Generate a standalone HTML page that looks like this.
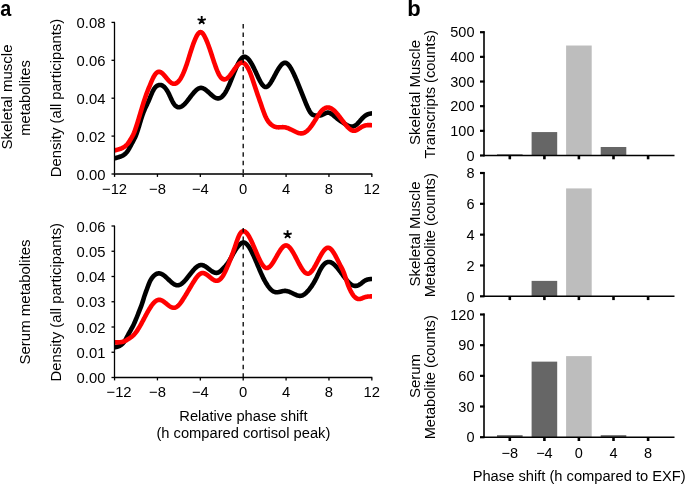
<!DOCTYPE html>
<html><head><meta charset="utf-8"><style>
html,body{margin:0;padding:0;background:#fff;overflow:hidden;}
svg{display:block;}
text{font-family:"Liberation Sans",sans-serif;fill:#000;}
svg{will-change:transform;}
</style></head><body>
<svg width="685" height="484" viewBox="0 0 685 484">
<defs><clipPath id="clipA"><rect x="114" y="0" width="258" height="484"/></clipPath></defs>
<text transform="translate(0.2,15.6) scale(0.9,1)" font-size="22" font-weight="bold">a</text>
<text x="407.2" y="15.6" text-anchor="start" font-size="22" font-weight="bold">b</text>
<g clip-path="url(#clipA)">
<path d="M114.50,158.40 L115.00,158.26 L115.50,158.11 L116.00,157.96 L116.50,157.81 L117.00,157.67 L117.50,157.51 L118.00,157.36 L118.50,157.20 L119.00,157.04 L119.50,156.87 L120.00,156.70 L120.50,156.53 L121.00,156.34 L121.50,156.14 L122.00,155.92 L122.50,155.68 L123.00,155.42 L123.50,155.12 L124.00,154.79 L124.50,154.41 L125.00,154.00 L125.50,153.54 L126.00,153.02 L126.50,152.46 L127.00,151.84 L127.50,151.16 L128.00,150.42 L128.50,149.63 L129.00,148.78 L129.50,147.88 L130.00,146.96 L130.50,146.04 L131.00,145.12 L131.50,144.19 L132.00,143.27 L132.50,142.34 L133.00,141.41 L133.50,140.46 L134.00,139.50 L134.50,138.53 L135.00,137.51 L135.50,136.42 L136.00,135.24 L136.50,133.93 L137.00,132.53 L137.50,131.04 L138.00,129.49 L138.50,127.88 L139.00,126.23 L139.50,124.57 L140.00,122.90 L140.50,121.24 L141.00,119.61 L141.50,118.02 L142.00,116.48 L142.50,115.01 L143.00,113.62 L143.50,112.30 L144.00,111.04 L144.50,109.84 L145.00,108.69 L145.50,107.58 L146.00,106.50 L146.50,105.44 L147.00,104.39 L147.50,103.34 L148.00,102.28 L148.50,101.20 L149.00,100.08 L149.50,98.91 L150.00,97.71 L150.50,96.48 L151.00,95.25 L151.50,94.05 L152.00,92.89 L152.50,91.80 L153.00,90.79 L153.50,89.87 L154.00,89.04 L154.50,88.30 L155.00,87.65 L155.50,87.08 L156.00,86.58 L156.50,86.17 L157.00,85.82 L157.50,85.53 L158.00,85.31 L158.50,85.14 L159.00,85.02 L159.50,84.95 L160.00,84.94 L160.50,84.98 L161.00,85.08 L161.50,85.22 L162.00,85.43 L162.50,85.68 L163.00,85.99 L163.50,86.36 L164.00,86.78 L164.50,87.26 L165.00,87.79 L165.50,88.38 L166.00,89.03 L166.50,89.73 L167.00,90.49 L167.50,91.31 L168.00,92.18 L168.50,93.12 L169.00,94.11 L169.50,95.16 L170.00,96.24 L170.50,97.34 L171.00,98.44 L171.50,99.53 L172.00,100.58 L172.50,101.57 L173.00,102.49 L173.50,103.32 L174.00,104.07 L174.50,104.73 L175.00,105.30 L175.50,105.80 L176.00,106.22 L176.50,106.56 L177.00,106.83 L177.50,107.03 L178.00,107.17 L178.50,107.24 L179.00,107.25 L179.50,107.20 L180.00,107.10 L180.50,106.94 L181.00,106.73 L181.50,106.47 L182.00,106.17 L182.50,105.83 L183.00,105.45 L183.50,105.03 L184.00,104.57 L184.50,104.09 L185.00,103.57 L185.50,103.03 L186.00,102.46 L186.50,101.88 L187.00,101.27 L187.50,100.66 L188.00,100.02 L188.50,99.38 L189.00,98.73 L189.50,98.08 L190.00,97.42 L190.50,96.76 L191.00,96.11 L191.50,95.46 L192.00,94.83 L192.50,94.20 L193.00,93.59 L193.50,92.99 L194.00,92.41 L194.50,91.86 L195.00,91.33 L195.50,90.83 L196.00,90.35 L196.50,89.91 L197.00,89.51 L197.50,89.14 L198.00,88.82 L198.50,88.54 L199.00,88.30 L199.50,88.12 L200.00,87.98 L200.50,87.90 L201.00,87.88 L201.50,87.91 L202.00,87.99 L202.50,88.12 L203.00,88.29 L203.50,88.50 L204.00,88.75 L204.50,89.04 L205.00,89.36 L205.50,89.71 L206.00,90.08 L206.50,90.47 L207.00,90.89 L207.50,91.31 L208.00,91.76 L208.50,92.21 L209.00,92.67 L209.50,93.13 L210.00,93.59 L210.50,94.05 L211.00,94.50 L211.50,94.94 L212.00,95.38 L212.50,95.79 L213.00,96.19 L213.50,96.56 L214.00,96.91 L214.50,97.23 L215.00,97.52 L215.50,97.77 L216.00,97.99 L216.50,98.17 L217.00,98.30 L217.50,98.38 L218.00,98.42 L218.50,98.40 L219.00,98.32 L219.50,98.19 L220.00,98.00 L220.50,97.76 L221.00,97.46 L221.50,97.10 L222.00,96.69 L222.50,96.22 L223.00,95.70 L223.50,95.12 L224.00,94.49 L224.50,93.80 L225.00,93.05 L225.50,92.26 L226.00,91.40 L226.50,90.50 L227.00,89.54 L227.50,88.53 L228.00,87.48 L228.50,86.38 L229.00,85.25 L229.50,84.09 L230.00,82.90 L230.50,81.69 L231.00,80.46 L231.50,79.21 L232.00,77.96 L232.50,76.71 L233.00,75.45 L233.50,74.20 L234.00,72.95 L234.50,71.72 L235.00,70.51 L235.50,69.32 L236.00,68.15 L236.50,67.02 L237.00,65.93 L237.50,64.87 L238.00,63.86 L238.50,62.90 L239.00,61.99 L239.50,61.14 L240.00,60.35 L240.50,59.63 L241.00,58.99 L241.50,58.41 L242.00,57.92 L242.50,57.52 L243.00,57.20 L243.50,56.98 L244.00,56.85 L244.50,56.80 L245.00,56.85 L245.50,56.97 L246.00,57.17 L246.50,57.44 L247.00,57.79 L247.50,58.20 L248.00,58.68 L248.50,59.23 L249.00,59.83 L249.50,60.48 L250.00,61.19 L250.50,61.95 L251.00,62.75 L251.50,63.60 L252.00,64.48 L252.50,65.40 L253.00,66.36 L253.50,67.34 L254.00,68.35 L254.50,69.38 L255.00,70.43 L255.50,71.50 L256.00,72.58 L256.50,73.67 L257.00,74.76 L257.50,75.84 L258.00,76.91 L258.50,77.96 L259.00,78.99 L259.50,79.98 L260.00,80.94 L260.50,81.85 L261.00,82.70 L261.50,83.50 L262.00,84.24 L262.50,84.90 L263.00,85.49 L263.50,85.99 L264.00,86.40 L264.50,86.71 L265.00,86.92 L265.50,87.02 L266.00,87.01 L266.50,86.89 L267.00,86.68 L267.50,86.37 L268.00,85.97 L268.50,85.50 L269.00,84.95 L269.50,84.34 L270.00,83.67 L270.50,82.94 L271.00,82.17 L271.50,81.35 L272.00,80.50 L272.50,79.62 L273.00,78.72 L273.50,77.81 L274.00,76.88 L274.50,75.94 L275.00,75.00 L275.50,74.07 L276.00,73.14 L276.50,72.22 L277.00,71.32 L277.50,70.45 L278.00,69.59 L278.50,68.77 L279.00,67.99 L279.50,67.24 L280.00,66.54 L280.50,65.88 L281.00,65.28 L281.50,64.73 L282.00,64.24 L282.50,63.81 L283.00,63.45 L283.50,63.17 L284.00,62.96 L284.50,62.83 L285.00,62.79 L285.50,62.83 L286.00,62.97 L286.50,63.19 L287.00,63.49 L287.50,63.88 L288.00,64.33 L288.50,64.86 L289.00,65.46 L289.50,66.12 L290.00,66.84 L290.50,67.62 L291.00,68.45 L291.50,69.33 L292.00,70.26 L292.50,71.22 L293.00,72.23 L293.50,73.27 L294.00,74.34 L294.50,75.43 L295.00,76.55 L295.50,77.69 L296.00,78.84 L296.50,80.02 L297.00,81.21 L297.50,82.41 L298.00,83.63 L298.50,84.86 L299.00,86.09 L299.50,87.34 L300.00,88.59 L300.50,89.85 L301.00,91.12 L301.50,92.38 L302.00,93.65 L302.50,94.91 L303.00,96.17 L303.50,97.43 L304.00,98.67 L304.50,99.91 L305.00,101.14 L305.50,102.35 L306.00,103.56 L306.50,104.74 L307.00,105.90 L307.50,107.03 L308.00,108.13 L308.50,109.17 L309.00,110.15 L309.50,111.07 L310.00,111.90 L310.50,112.65 L311.00,113.29 L311.50,113.83 L312.00,114.27 L312.50,114.63 L313.00,114.90 L313.50,115.11 L314.00,115.26 L314.50,115.36 L315.00,115.43 L315.50,115.47 L316.00,115.49 L316.50,115.51 L317.00,115.53 L317.50,115.54 L318.00,115.55 L318.50,115.55 L319.00,115.54 L319.50,115.51 L320.00,115.45 L320.50,115.38 L321.00,115.27 L321.50,115.13 L322.00,114.96 L322.50,114.74 L323.00,114.50 L323.50,114.24 L324.00,113.98 L324.50,113.71 L325.00,113.45 L325.50,113.20 L326.00,112.99 L326.50,112.81 L327.00,112.68 L327.50,112.61 L328.00,112.59 L328.50,112.64 L329.00,112.74 L329.50,112.90 L330.00,113.10 L330.50,113.35 L331.00,113.63 L331.50,113.95 L332.00,114.30 L332.50,114.67 L333.00,115.07 L333.50,115.48 L334.00,115.90 L334.50,116.33 L335.00,116.76 L335.50,117.19 L336.00,117.61 L336.50,118.03 L337.00,118.43 L337.50,118.83 L338.00,119.21 L338.50,119.59 L339.00,119.96 L339.50,120.32 L340.00,120.67 L340.50,121.02 L341.00,121.36 L341.50,121.70 L342.00,122.03 L342.50,122.36 L343.00,122.68 L343.50,123.01 L344.00,123.33 L344.50,123.65 L345.00,123.96 L345.50,124.27 L346.00,124.57 L346.50,124.85 L347.00,125.13 L347.50,125.38 L348.00,125.62 L348.50,125.83 L349.00,126.02 L349.50,126.19 L350.00,126.33 L350.50,126.43 L351.00,126.50 L351.50,126.54 L352.00,126.54 L352.50,126.50 L353.00,126.42 L353.50,126.29 L354.00,126.12 L354.50,125.90 L355.00,125.65 L355.50,125.34 L356.00,124.99 L356.50,124.60 L357.00,124.16 L357.50,123.68 L358.00,123.16 L358.50,122.62 L359.00,122.06 L359.50,121.49 L360.00,120.90 L360.50,120.32 L361.00,119.74 L361.50,119.18 L362.00,118.63 L362.50,118.10 L363.00,117.59 L363.50,117.11 L364.00,116.66 L364.50,116.24 L365.00,115.85 L365.50,115.50 L366.00,115.18 L366.50,114.90 L367.00,114.64 L367.50,114.42 L368.00,114.22 L368.50,114.04 L369.00,113.89 L369.50,113.76 L370.00,113.65 L370.50,113.56 L371.00,113.49 L371.50,113.43 L372.00,113.38 L372.50,113.35 L373.00,113.32 L373.50,113.31 L374.00,113.30 L374.50,113.29 L375.00,113.29 L375.50,113.29 L376.00,113.30" fill="none" stroke="#000" stroke-width="4.6" stroke-linejoin="round"/>
<path d="M114.50,150.40 L115.00,150.28 L115.50,150.17 L116.00,150.04 L116.50,149.92 L117.00,149.80 L117.50,149.66 L118.00,149.53 L118.50,149.38 L119.00,149.23 L119.50,149.07 L120.00,148.90 L120.50,148.72 L121.00,148.53 L121.50,148.32 L122.00,148.10 L122.50,147.85 L123.00,147.59 L123.50,147.31 L124.00,147.00 L124.50,146.66 L125.00,146.30 L125.50,145.91 L126.00,145.48 L126.50,145.01 L127.00,144.50 L127.50,143.94 L128.00,143.33 L128.50,142.65 L129.00,141.92 L129.50,141.14 L130.00,140.34 L130.50,139.51 L131.00,138.68 L131.50,137.84 L132.00,136.96 L132.50,136.02 L133.00,135.03 L133.50,133.95 L134.00,132.78 L134.50,131.53 L135.00,130.20 L135.50,128.80 L136.00,127.34 L136.50,125.83 L137.00,124.27 L137.50,122.67 L138.00,121.03 L138.50,119.38 L139.00,117.70 L139.50,116.01 L140.00,114.33 L140.50,112.64 L141.00,110.97 L141.50,109.30 L142.00,107.65 L142.50,106.02 L143.00,104.40 L143.50,102.81 L144.00,101.24 L144.50,99.70 L145.00,98.20 L145.50,96.72 L146.00,95.29 L146.50,93.89 L147.00,92.53 L147.50,91.22 L148.00,89.95 L148.50,88.71 L149.00,87.49 L149.50,86.28 L150.00,85.07 L150.50,83.87 L151.00,82.66 L151.50,81.46 L152.00,80.30 L152.50,79.17 L153.00,78.10 L153.50,77.11 L154.00,76.19 L154.50,75.36 L155.00,74.61 L155.50,73.95 L156.00,73.37 L156.50,72.88 L157.00,72.48 L157.50,72.17 L158.00,71.95 L158.50,71.82 L159.00,71.78 L159.50,71.82 L160.00,71.94 L160.50,72.14 L161.00,72.40 L161.50,72.73 L162.00,73.11 L162.50,73.54 L163.00,74.01 L163.50,74.53 L164.00,75.07 L164.50,75.64 L165.00,76.23 L165.50,76.83 L166.00,77.44 L166.50,78.05 L167.00,78.65 L167.50,79.24 L168.00,79.82 L168.50,80.38 L169.00,80.90 L169.50,81.39 L170.00,81.85 L170.50,82.26 L171.00,82.63 L171.50,82.96 L172.00,83.23 L172.50,83.46 L173.00,83.63 L173.50,83.74 L174.00,83.80 L174.50,83.79 L175.00,83.71 L175.50,83.58 L176.00,83.37 L176.50,83.11 L177.00,82.78 L177.50,82.38 L178.00,81.93 L178.50,81.41 L179.00,80.83 L179.50,80.18 L180.00,79.48 L180.50,78.71 L181.00,77.88 L181.50,76.99 L182.00,76.04 L182.50,75.02 L183.00,73.95 L183.50,72.81 L184.00,71.62 L184.50,70.38 L185.00,69.08 L185.50,67.73 L186.00,66.34 L186.50,64.90 L187.00,63.41 L187.50,61.89 L188.00,60.33 L188.50,58.74 L189.00,57.14 L189.50,55.52 L190.00,53.91 L190.50,52.31 L191.00,50.74 L191.50,49.19 L192.00,47.68 L192.50,46.21 L193.00,44.78 L193.50,43.41 L194.00,42.09 L194.50,40.82 L195.00,39.62 L195.50,38.47 L196.00,37.40 L196.50,36.39 L197.00,35.47 L197.50,34.64 L198.00,33.91 L198.50,33.29 L199.00,32.78 L199.50,32.41 L200.00,32.18 L200.50,32.10 L201.00,32.18 L201.50,32.40 L202.00,32.76 L202.50,33.24 L203.00,33.84 L203.50,34.55 L204.00,35.35 L204.50,36.23 L205.00,37.20 L205.50,38.23 L206.00,39.32 L206.50,40.46 L207.00,41.66 L207.50,42.92 L208.00,44.21 L208.50,45.56 L209.00,46.94 L209.50,48.35 L210.00,49.80 L210.50,51.28 L211.00,52.78 L211.50,54.29 L212.00,55.82 L212.50,57.35 L213.00,58.88 L213.50,60.40 L214.00,61.90 L214.50,63.38 L215.00,64.84 L215.50,66.26 L216.00,67.64 L216.50,68.96 L217.00,70.23 L217.50,71.44 L218.00,72.57 L218.50,73.63 L219.00,74.60 L219.50,75.47 L220.00,76.26 L220.50,76.95 L221.00,77.56 L221.50,78.08 L222.00,78.51 L222.50,78.85 L223.00,79.11 L223.50,79.29 L224.00,79.38 L224.50,79.40 L225.00,79.34 L225.50,79.20 L226.00,78.99 L226.50,78.72 L227.00,78.38 L227.50,77.99 L228.00,77.55 L228.50,77.06 L229.00,76.53 L229.50,75.96 L230.00,75.36 L230.50,74.72 L231.00,74.07 L231.50,73.39 L232.00,72.70 L232.50,71.99 L233.00,71.28 L233.50,70.57 L234.00,69.86 L234.50,69.16 L235.00,68.47 L235.50,67.80 L236.00,67.15 L236.50,66.52 L237.00,65.92 L237.50,65.36 L238.00,64.84 L238.50,64.36 L239.00,63.93 L239.50,63.55 L240.00,63.22 L240.50,62.97 L241.00,62.77 L241.50,62.65 L242.00,62.60 L242.50,62.63 L243.00,62.75 L243.50,62.94 L244.00,63.21 L244.50,63.55 L245.00,63.98 L245.50,64.48 L246.00,65.07 L246.50,65.72 L247.00,66.46 L247.50,67.27 L248.00,68.16 L248.50,69.12 L249.00,70.16 L249.50,71.27 L250.00,72.46 L250.50,73.71 L251.00,75.03 L251.50,76.39 L252.00,77.81 L252.50,79.26 L253.00,80.74 L253.50,82.24 L254.00,83.75 L254.50,85.27 L255.00,86.79 L255.50,88.30 L256.00,89.79 L256.50,91.27 L257.00,92.74 L257.50,94.20 L258.00,95.65 L258.50,97.10 L259.00,98.54 L259.50,99.98 L260.00,101.43 L260.50,102.87 L261.00,104.31 L261.50,105.77 L262.00,107.22 L262.50,108.65 L263.00,110.07 L263.50,111.46 L264.00,112.80 L264.50,114.10 L265.00,115.33 L265.50,116.50 L266.00,117.59 L266.50,118.59 L267.00,119.50 L267.50,120.33 L268.00,121.09 L268.50,121.78 L269.00,122.41 L269.50,122.98 L270.00,123.49 L270.50,123.97 L271.00,124.40 L271.50,124.80 L272.00,125.17 L272.50,125.51 L273.00,125.81 L273.50,126.08 L274.00,126.33 L274.50,126.54 L275.00,126.73 L275.50,126.89 L276.00,127.03 L276.50,127.14 L277.00,127.22 L277.50,127.28 L278.00,127.32 L278.50,127.33 L279.00,127.33 L279.50,127.32 L280.00,127.30 L280.50,127.27 L281.00,127.23 L281.50,127.20 L282.00,127.18 L282.50,127.16 L283.00,127.16 L283.50,127.18 L284.00,127.21 L284.50,127.27 L285.00,127.35 L285.50,127.45 L286.00,127.56 L286.50,127.70 L287.00,127.85 L287.50,128.02 L288.00,128.21 L288.50,128.40 L289.00,128.61 L289.50,128.83 L290.00,129.06 L290.50,129.29 L291.00,129.53 L291.50,129.78 L292.00,130.03 L292.50,130.28 L293.00,130.54 L293.50,130.79 L294.00,131.05 L294.50,131.30 L295.00,131.55 L295.50,131.79 L296.00,132.02 L296.50,132.25 L297.00,132.46 L297.50,132.65 L298.00,132.83 L298.50,132.99 L299.00,133.13 L299.50,133.24 L300.00,133.33 L300.50,133.39 L301.00,133.42 L301.50,133.41 L302.00,133.37 L302.50,133.30 L303.00,133.18 L303.50,133.03 L304.00,132.84 L304.50,132.61 L305.00,132.35 L305.50,132.05 L306.00,131.71 L306.50,131.34 L307.00,130.93 L307.50,130.48 L308.00,130.01 L308.50,129.50 L309.00,128.96 L309.50,128.38 L310.00,127.78 L310.50,127.15 L311.00,126.50 L311.50,125.82 L312.00,125.12 L312.50,124.40 L313.00,123.65 L313.50,122.90 L314.00,122.12 L314.50,121.34 L315.00,120.54 L315.50,119.73 L316.00,118.92 L316.50,118.10 L317.00,117.29 L317.50,116.49 L318.00,115.71 L318.50,114.93 L319.00,114.19 L319.50,113.46 L320.00,112.77 L320.50,112.12 L321.00,111.50 L321.50,110.93 L322.00,110.40 L322.50,109.92 L323.00,109.48 L323.50,109.09 L324.00,108.73 L324.50,108.43 L325.00,108.16 L325.50,107.94 L326.00,107.77 L326.50,107.63 L327.00,107.54 L327.50,107.49 L328.00,107.49 L328.50,107.53 L329.00,107.61 L329.50,107.73 L330.00,107.89 L330.50,108.10 L331.00,108.34 L331.50,108.62 L332.00,108.93 L332.50,109.28 L333.00,109.66 L333.50,110.07 L334.00,110.51 L334.50,110.98 L335.00,111.47 L335.50,111.98 L336.00,112.52 L336.50,113.07 L337.00,113.65 L337.50,114.24 L338.00,114.84 L338.50,115.46 L339.00,116.09 L339.50,116.73 L340.00,117.38 L340.50,118.04 L341.00,118.70 L341.50,119.36 L342.00,120.02 L342.50,120.69 L343.00,121.35 L343.50,122.01 L344.00,122.66 L344.50,123.31 L345.00,123.94 L345.50,124.57 L346.00,125.17 L346.50,125.77 L347.00,126.34 L347.50,126.88 L348.00,127.41 L348.50,127.90 L349.00,128.37 L349.50,128.80 L350.00,129.20 L350.50,129.56 L351.00,129.88 L351.50,130.15 L352.00,130.38 L352.50,130.56 L353.00,130.70 L353.50,130.77 L354.00,130.80 L354.50,130.76 L355.00,130.68 L355.50,130.54 L356.00,130.36 L356.50,130.15 L357.00,129.90 L357.50,129.63 L358.00,129.33 L358.50,129.02 L359.00,128.69 L359.50,128.36 L360.00,128.03 L360.50,127.70 L361.00,127.39 L361.50,127.08 L362.00,126.80 L362.50,126.53 L363.00,126.29 L363.50,126.07 L364.00,125.87 L364.50,125.69 L365.00,125.55 L365.50,125.42 L366.00,125.33 L366.50,125.25 L367.00,125.20 L367.50,125.16 L368.00,125.13 L368.50,125.12 L369.00,125.12 L369.50,125.13 L370.00,125.14 L370.50,125.16 L371.00,125.17 L371.50,125.19 L372.00,125.20 L372.50,125.21 L373.00,125.22 L373.50,125.22 L374.00,125.22 L374.50,125.22 L375.00,125.21 L375.50,125.21 L376.00,125.20" fill="none" stroke="#f00" stroke-width="4.6" stroke-linejoin="round"/>
</g>
<line x1="243.2" y1="24" x2="243.2" y2="174.0" stroke="#000" stroke-width="1.3" stroke-dasharray="4.5 4.05"/>
<line x1="114.5" y1="22.4" x2="114.5" y2="174.6" stroke="#000" stroke-width="1.3" />
<line x1="113.9" y1="174.0" x2="372.3" y2="174.0" stroke="#3a3a3a" stroke-width="1.8" />
<line x1="111.5" y1="22.4" x2="115" y2="22.4" stroke="#000" stroke-width="1.3" />
<text x="105.4" y="27.9" text-anchor="end" font-size="14.8" >0.08</text>
<line x1="111.5" y1="60.3" x2="115" y2="60.3" stroke="#000" stroke-width="1.3" />
<text x="105.4" y="65.8" text-anchor="end" font-size="14.8" >0.06</text>
<line x1="111.5" y1="98.19999999999999" x2="115" y2="98.19999999999999" stroke="#000" stroke-width="1.3" />
<text x="105.4" y="103.69999999999999" text-anchor="end" font-size="14.8" >0.04</text>
<line x1="111.5" y1="136.1" x2="115" y2="136.1" stroke="#000" stroke-width="1.3" />
<text x="105.4" y="141.6" text-anchor="end" font-size="14.8" >0.02</text>
<line x1="111.5" y1="174.0" x2="115" y2="174.0" stroke="#000" stroke-width="1.3" />
<text x="105.4" y="179.5" text-anchor="end" font-size="14.8" >0.00</text>
<line x1="114.55999999999997" y1="174.0" x2="114.55999999999997" y2="176.9" stroke="#000" stroke-width="1.3" />
<text x="114.55999999999997" y="193.5" text-anchor="middle" font-size="14.8" >−12</text>
<line x1="157.44" y1="174.0" x2="157.44" y2="176.9" stroke="#000" stroke-width="1.3" />
<text x="157.44" y="193.5" text-anchor="middle" font-size="14.8" >−8</text>
<line x1="200.32" y1="174.0" x2="200.32" y2="176.9" stroke="#000" stroke-width="1.3" />
<text x="200.32" y="193.5" text-anchor="middle" font-size="14.8" >−4</text>
<line x1="243.2" y1="174.0" x2="243.2" y2="176.9" stroke="#000" stroke-width="1.3" />
<text x="243.2" y="193.5" text-anchor="middle" font-size="14.8" >0</text>
<line x1="286.08" y1="174.0" x2="286.08" y2="176.9" stroke="#000" stroke-width="1.3" />
<text x="286.08" y="193.5" text-anchor="middle" font-size="14.8" >4</text>
<line x1="328.96" y1="174.0" x2="328.96" y2="176.9" stroke="#000" stroke-width="1.3" />
<text x="328.96" y="193.5" text-anchor="middle" font-size="14.8" >8</text>
<line x1="371.84000000000003" y1="174.0" x2="371.84000000000003" y2="176.9" stroke="#000" stroke-width="1.3" />
<text x="371.84000000000003" y="193.5" text-anchor="middle" font-size="14.8" >12</text>
<path d="M201.70,20.40 L201.70,16.10 M201.70,20.40 L205.79,19.07 M201.70,20.40 L204.23,23.88 M201.70,20.40 L199.17,23.88 M201.70,20.40 L197.61,19.07 " stroke="#000" stroke-width="1.85" stroke-linecap="butt" fill="none"/>
<g clip-path="url(#clipA)">
<path d="M114.50,347.30 L115.00,347.22 L115.50,347.13 L116.00,347.03 L116.50,346.93 L117.00,346.81 L117.50,346.68 L118.00,346.52 L118.50,346.35 L119.00,346.15 L119.50,345.91 L120.00,345.65 L120.50,345.35 L121.00,345.01 L121.50,344.62 L122.00,344.19 L122.50,343.72 L123.00,343.19 L123.50,342.60 L124.00,341.96 L124.50,341.25 L125.00,340.48 L125.50,339.66 L126.00,338.79 L126.50,337.89 L127.00,336.96 L127.50,336.02 L128.00,335.08 L128.50,334.14 L129.00,333.21 L129.50,332.30 L130.00,331.41 L130.50,330.52 L131.00,329.63 L131.50,328.74 L132.00,327.83 L132.50,326.90 L133.00,325.93 L133.50,324.93 L134.00,323.88 L134.50,322.78 L135.00,321.63 L135.50,320.45 L136.00,319.24 L136.50,318.00 L137.00,316.75 L137.50,315.49 L138.00,314.22 L138.50,312.96 L139.00,311.71 L139.50,310.46 L140.00,309.20 L140.50,307.92 L141.00,306.60 L141.50,305.23 L142.00,303.81 L142.50,302.30 L143.00,300.72 L143.50,299.07 L144.00,297.44 L144.50,295.90 L145.00,294.44 L145.50,293.03 L146.00,291.66 L146.50,290.30 L147.00,288.93 L147.50,287.55 L148.00,286.19 L148.50,284.85 L149.00,283.58 L149.50,282.38 L150.00,281.29 L150.50,280.31 L151.00,279.44 L151.50,278.65 L152.00,277.93 L152.50,277.28 L153.00,276.68 L153.50,276.13 L154.00,275.64 L154.50,275.20 L155.00,274.81 L155.50,274.47 L156.00,274.17 L156.50,273.92 L157.00,273.72 L157.50,273.56 L158.00,273.45 L158.50,273.39 L159.00,273.38 L159.50,273.41 L160.00,273.49 L160.50,273.62 L161.00,273.78 L161.50,273.99 L162.00,274.23 L162.50,274.51 L163.00,274.82 L163.50,275.15 L164.00,275.52 L164.50,275.90 L165.00,276.31 L165.50,276.73 L166.00,277.17 L166.50,277.63 L167.00,278.09 L167.50,278.56 L168.00,279.04 L168.50,279.52 L169.00,280.00 L169.50,280.47 L170.00,280.94 L170.50,281.40 L171.00,281.85 L171.50,282.29 L172.00,282.70 L172.50,283.10 L173.00,283.47 L173.50,283.82 L174.00,284.14 L174.50,284.42 L175.00,284.67 L175.50,284.89 L176.00,285.06 L176.50,285.19 L177.00,285.27 L177.50,285.30 L178.00,285.28 L178.50,285.21 L179.00,285.08 L179.50,284.91 L180.00,284.70 L180.50,284.44 L181.00,284.14 L181.50,283.80 L182.00,283.42 L182.50,283.01 L183.00,282.57 L183.50,282.10 L184.00,281.60 L184.50,281.08 L185.00,280.54 L185.50,279.97 L186.00,279.39 L186.50,278.79 L187.00,278.18 L187.50,277.56 L188.00,276.93 L188.50,276.29 L189.00,275.65 L189.50,275.00 L190.00,274.36 L190.50,273.72 L191.00,273.09 L191.50,272.46 L192.00,271.84 L192.50,271.23 L193.00,270.64 L193.50,270.07 L194.00,269.51 L194.50,268.98 L195.00,268.47 L195.50,267.98 L196.00,267.52 L196.50,267.10 L197.00,266.70 L197.50,266.34 L198.00,266.02 L198.50,265.74 L199.00,265.50 L199.50,265.30 L200.00,265.15 L200.50,265.05 L201.00,265.00 L201.50,265.00 L202.00,265.06 L202.50,265.16 L203.00,265.30 L203.50,265.48 L204.00,265.70 L204.50,265.95 L205.00,266.23 L205.50,266.54 L206.00,266.87 L206.50,267.21 L207.00,267.58 L207.50,267.95 L208.00,268.34 L208.50,268.73 L209.00,269.12 L209.50,269.51 L210.00,269.90 L210.50,270.27 L211.00,270.64 L211.50,270.99 L212.00,271.32 L212.50,271.63 L213.00,271.91 L213.50,272.17 L214.00,272.39 L214.50,272.58 L215.00,272.72 L215.50,272.83 L216.00,272.89 L216.50,272.90 L217.00,272.85 L217.50,272.75 L218.00,272.59 L218.50,272.38 L219.00,272.10 L219.50,271.79 L220.00,271.42 L220.50,271.02 L221.00,270.59 L221.50,270.13 L222.00,269.64 L222.50,269.14 L223.00,268.62 L223.50,268.10 L224.00,267.57 L224.50,267.03 L225.00,266.48 L225.50,265.92 L226.00,265.33 L226.50,264.73 L227.00,264.10 L227.50,263.44 L228.00,262.76 L228.50,262.03 L229.00,261.27 L229.50,260.47 L230.00,259.63 L230.50,258.75 L231.00,257.85 L231.50,256.94 L232.00,256.01 L232.50,255.08 L233.00,254.16 L233.50,253.25 L234.00,252.36 L234.50,251.50 L235.00,250.68 L235.50,249.89 L236.00,249.13 L236.50,248.41 L237.00,247.73 L237.50,247.07 L238.00,246.45 L238.50,245.86 L239.00,245.30 L239.50,244.77 L240.00,244.28 L240.50,243.83 L241.00,243.43 L241.50,243.09 L242.00,242.82 L242.50,242.62 L243.00,242.50 L243.50,242.47 L244.00,242.52 L244.50,242.65 L245.00,242.86 L245.50,243.15 L246.00,243.51 L246.50,243.94 L247.00,244.43 L247.50,244.99 L248.00,245.61 L248.50,246.28 L249.00,247.01 L249.50,247.79 L250.00,248.62 L250.50,249.49 L251.00,250.41 L251.50,251.37 L252.00,252.36 L252.50,253.39 L253.00,254.44 L253.50,255.53 L254.00,256.64 L254.50,257.77 L255.00,258.92 L255.50,260.08 L256.00,261.26 L256.50,262.44 L257.00,263.64 L257.50,264.83 L258.00,266.03 L258.50,267.23 L259.00,268.41 L259.50,269.60 L260.00,270.76 L260.50,271.92 L261.00,273.06 L261.50,274.17 L262.00,275.27 L262.50,276.34 L263.00,277.38 L263.50,278.39 L264.00,279.37 L264.50,280.32 L265.00,281.24 L265.50,282.13 L266.00,282.99 L266.50,283.81 L267.00,284.60 L267.50,285.36 L268.00,286.08 L268.50,286.76 L269.00,287.41 L269.50,288.02 L270.00,288.59 L270.50,289.12 L271.00,289.62 L271.50,290.07 L272.00,290.48 L272.50,290.85 L273.00,291.18 L273.50,291.46 L274.00,291.71 L274.50,291.90 L275.00,292.05 L275.50,292.16 L276.00,292.23 L276.50,292.26 L277.00,292.25 L277.50,292.22 L278.00,292.16 L278.50,292.09 L279.00,291.99 L279.50,291.88 L280.00,291.76 L280.50,291.64 L281.00,291.51 L281.50,291.39 L282.00,291.27 L282.50,291.16 L283.00,291.07 L283.50,290.99 L284.00,290.93 L284.50,290.90 L285.00,290.89 L285.50,290.91 L286.00,290.96 L286.50,291.03 L287.00,291.12 L287.50,291.24 L288.00,291.37 L288.50,291.52 L289.00,291.68 L289.50,291.87 L290.00,292.06 L290.50,292.27 L291.00,292.49 L291.50,292.72 L292.00,292.96 L292.50,293.20 L293.00,293.45 L293.50,293.70 L294.00,293.95 L294.50,294.20 L295.00,294.44 L295.50,294.67 L296.00,294.89 L296.50,295.10 L297.00,295.29 L297.50,295.45 L298.00,295.59 L298.50,295.71 L299.00,295.79 L299.50,295.84 L300.00,295.86 L300.50,295.83 L301.00,295.77 L301.50,295.66 L302.00,295.51 L302.50,295.32 L303.00,295.09 L303.50,294.82 L304.00,294.51 L304.50,294.17 L305.00,293.79 L305.50,293.38 L306.00,292.94 L306.50,292.47 L307.00,291.97 L307.50,291.44 L308.00,290.88 L308.50,290.30 L309.00,289.69 L309.50,289.06 L310.00,288.41 L310.50,287.74 L311.00,287.05 L311.50,286.33 L312.00,285.59 L312.50,284.83 L313.00,284.05 L313.50,283.23 L314.00,282.39 L314.50,281.52 L315.00,280.61 L315.50,279.67 L316.00,278.70 L316.50,277.68 L317.00,276.64 L317.50,275.57 L318.00,274.50 L318.50,273.42 L319.00,272.36 L319.50,271.33 L320.00,270.33 L320.50,269.37 L321.00,268.47 L321.50,267.64 L322.00,266.86 L322.50,266.14 L323.00,265.49 L323.50,264.89 L324.00,264.35 L324.50,263.86 L325.00,263.44 L325.50,263.06 L326.00,262.75 L326.50,262.48 L327.00,262.27 L327.50,262.12 L328.00,262.01 L328.50,261.96 L329.00,261.95 L329.50,262.00 L330.00,262.10 L330.50,262.24 L331.00,262.43 L331.50,262.66 L332.00,262.93 L332.50,263.24 L333.00,263.59 L333.50,263.97 L334.00,264.39 L334.50,264.84 L335.00,265.32 L335.50,265.82 L336.00,266.35 L336.50,266.91 L337.00,267.48 L337.50,268.08 L338.00,268.69 L338.50,269.32 L339.00,269.96 L339.50,270.61 L340.00,271.28 L340.50,271.95 L341.00,272.62 L341.50,273.30 L342.00,273.99 L342.50,274.67 L343.00,275.35 L343.50,276.02 L344.00,276.69 L344.50,277.36 L345.00,278.01 L345.50,278.65 L346.00,279.27 L346.50,279.88 L347.00,280.47 L347.50,281.05 L348.00,281.60 L348.50,282.12 L349.00,282.62 L349.50,283.09 L350.00,283.54 L350.50,283.95 L351.00,284.33 L351.50,284.67 L352.00,284.97 L352.50,285.24 L353.00,285.46 L353.50,285.64 L354.00,285.77 L354.50,285.86 L355.00,285.91 L355.50,285.91 L356.00,285.87 L356.50,285.79 L357.00,285.68 L357.50,285.53 L358.00,285.34 L358.50,285.12 L359.00,284.87 L359.50,284.59 L360.00,284.28 L360.50,283.94 L361.00,283.58 L361.50,283.19 L362.00,282.80 L362.50,282.40 L363.00,282.00 L363.50,281.61 L364.00,281.24 L364.50,280.89 L365.00,280.58 L365.50,280.31 L366.00,280.07 L366.50,279.86 L367.00,279.69 L367.50,279.54 L368.00,279.41 L368.50,279.31 L369.00,279.22 L369.50,279.16 L370.00,279.10 L370.50,279.06 L371.00,279.03 L371.50,279.00 L372.00,278.98 L372.50,278.96 L373.00,278.95 L373.50,278.94 L374.00,278.93 L374.50,278.92 L375.00,278.91 L375.50,278.91 L376.00,278.90" fill="none" stroke="#000" stroke-width="4.6" stroke-linejoin="round"/>
<path d="M114.50,342.30 L115.00,342.32 L115.50,342.34 L116.00,342.36 L116.50,342.37 L117.00,342.38 L117.50,342.38 L118.00,342.37 L118.50,342.36 L119.00,342.34 L119.50,342.31 L120.00,342.26 L120.50,342.21 L121.00,342.14 L121.50,342.05 L122.00,341.95 L122.50,341.83 L123.00,341.69 L123.50,341.53 L124.00,341.36 L124.50,341.16 L125.00,340.93 L125.50,340.69 L126.00,340.43 L126.50,340.15 L127.00,339.86 L127.50,339.56 L128.00,339.25 L128.50,338.93 L129.00,338.60 L129.50,338.27 L130.00,337.94 L130.50,337.59 L131.00,337.23 L131.50,336.85 L132.00,336.46 L132.50,336.04 L133.00,335.59 L133.50,335.11 L134.00,334.60 L134.50,334.06 L135.00,333.48 L135.50,332.86 L136.00,332.22 L136.50,331.54 L137.00,330.83 L137.50,330.09 L138.00,329.33 L138.50,328.54 L139.00,327.73 L139.50,326.90 L140.00,326.04 L140.50,325.17 L141.00,324.28 L141.50,323.37 L142.00,322.45 L142.50,321.52 L143.00,320.59 L143.50,319.64 L144.00,318.69 L144.50,317.74 L145.00,316.79 L145.50,315.85 L146.00,314.91 L146.50,313.98 L147.00,313.06 L147.50,312.16 L148.00,311.27 L148.50,310.40 L149.00,309.55 L149.50,308.72 L150.00,307.92 L150.50,307.14 L151.00,306.39 L151.50,305.67 L152.00,304.99 L152.50,304.33 L153.00,303.72 L153.50,303.14 L154.00,302.61 L154.50,302.11 L155.00,301.66 L155.50,301.26 L156.00,300.90 L156.50,300.58 L157.00,300.32 L157.50,300.11 L158.00,299.95 L158.50,299.85 L159.00,299.80 L159.50,299.81 L160.00,299.87 L160.50,299.98 L161.00,300.14 L161.50,300.34 L162.00,300.58 L162.50,300.85 L163.00,301.15 L163.50,301.48 L164.00,301.83 L164.50,302.20 L165.00,302.59 L165.50,302.98 L166.00,303.39 L166.50,303.80 L167.00,304.21 L167.50,304.61 L168.00,305.01 L168.50,305.40 L169.00,305.77 L169.50,306.12 L170.00,306.45 L170.50,306.75 L171.00,307.02 L171.50,307.26 L172.00,307.46 L172.50,307.62 L173.00,307.73 L173.50,307.79 L174.00,307.80 L174.50,307.76 L175.00,307.65 L175.50,307.48 L176.00,307.25 L176.50,306.96 L177.00,306.62 L177.50,306.23 L178.00,305.79 L178.50,305.30 L179.00,304.78 L179.50,304.21 L180.00,303.61 L180.50,302.97 L181.00,302.30 L181.50,301.60 L182.00,300.88 L182.50,300.14 L183.00,299.37 L183.50,298.59 L184.00,297.80 L184.50,296.99 L185.00,296.17 L185.50,295.35 L186.00,294.52 L186.50,293.69 L187.00,292.85 L187.50,292.01 L188.00,291.17 L188.50,290.33 L189.00,289.48 L189.50,288.63 L190.00,287.79 L190.50,286.95 L191.00,286.10 L191.50,285.27 L192.00,284.43 L192.50,283.60 L193.00,282.78 L193.50,281.97 L194.00,281.17 L194.50,280.39 L195.00,279.63 L195.50,278.89 L196.00,278.19 L196.50,277.51 L197.00,276.87 L197.50,276.26 L198.00,275.70 L198.50,275.18 L199.00,274.71 L199.50,274.29 L200.00,273.93 L200.50,273.62 L201.00,273.38 L201.50,273.20 L202.00,273.09 L202.50,273.05 L203.00,273.06 L203.50,273.13 L204.00,273.25 L204.50,273.42 L205.00,273.64 L205.50,273.89 L206.00,274.18 L206.50,274.50 L207.00,274.84 L207.50,275.21 L208.00,275.59 L208.50,275.99 L209.00,276.40 L209.50,276.81 L210.00,277.23 L210.50,277.64 L211.00,278.05 L211.50,278.44 L212.00,278.81 L212.50,279.17 L213.00,279.50 L213.50,279.81 L214.00,280.08 L214.50,280.31 L215.00,280.51 L215.50,280.66 L216.00,280.75 L216.50,280.80 L217.00,280.79 L217.50,280.71 L218.00,280.58 L218.50,280.38 L219.00,280.12 L219.50,279.80 L220.00,279.41 L220.50,278.96 L221.00,278.44 L221.50,277.86 L222.00,277.21 L222.50,276.50 L223.00,275.72 L223.50,274.87 L224.00,273.97 L224.50,273.02 L225.00,272.02 L225.50,270.98 L226.00,269.90 L226.50,268.78 L227.00,267.64 L227.50,266.47 L228.00,265.29 L228.50,264.09 L229.00,262.87 L229.50,261.63 L230.00,260.37 L230.50,259.10 L231.00,257.81 L231.50,256.50 L232.00,255.16 L232.50,253.81 L233.00,252.44 L233.50,251.05 L234.00,249.64 L234.50,248.21 L235.00,246.76 L235.50,245.29 L236.00,243.81 L236.50,242.32 L237.00,240.87 L237.50,239.46 L238.00,238.11 L238.50,236.86 L239.00,235.72 L239.50,234.72 L240.00,233.84 L240.50,233.10 L241.00,232.49 L241.50,232.00 L242.00,231.62 L242.50,231.37 L243.00,231.22 L243.50,231.17 L244.00,231.23 L244.50,231.39 L245.00,231.63 L245.50,231.97 L246.00,232.39 L246.50,232.89 L247.00,233.46 L247.50,234.11 L248.00,234.82 L248.50,235.59 L249.00,236.42 L249.50,237.31 L250.00,238.24 L250.50,239.22 L251.00,240.24 L251.50,241.29 L252.00,242.38 L252.50,243.49 L253.00,244.63 L253.50,245.79 L254.00,246.95 L254.50,248.13 L255.00,249.32 L255.50,250.50 L256.00,251.68 L256.50,252.86 L257.00,254.02 L257.50,255.17 L258.00,256.29 L258.50,257.39 L259.00,258.46 L259.50,259.50 L260.00,260.50 L260.50,261.45 L261.00,262.36 L261.50,263.22 L262.00,264.02 L262.50,264.77 L263.00,265.45 L263.50,266.05 L264.00,266.59 L264.50,267.05 L265.00,267.43 L265.50,267.72 L266.00,267.92 L266.50,268.03 L267.00,268.04 L267.50,267.96 L268.00,267.79 L268.50,267.55 L269.00,267.23 L269.50,266.83 L270.00,266.37 L270.50,265.85 L271.00,265.27 L271.50,264.64 L272.00,263.96 L272.50,263.24 L273.00,262.48 L273.50,261.69 L274.00,260.87 L274.50,260.03 L275.00,259.17 L275.50,258.30 L276.00,257.42 L276.50,256.53 L277.00,255.64 L277.50,254.77 L278.00,253.90 L278.50,253.04 L279.00,252.21 L279.50,251.40 L280.00,250.63 L280.50,249.88 L281.00,249.18 L281.50,248.52 L282.00,247.92 L282.50,247.36 L283.00,246.86 L283.50,246.43 L284.00,246.07 L284.50,245.78 L285.00,245.57 L285.50,245.44 L286.00,245.40 L286.50,245.45 L287.00,245.58 L287.50,245.79 L288.00,246.08 L288.50,246.45 L289.00,246.88 L289.50,247.38 L290.00,247.94 L290.50,248.55 L291.00,249.22 L291.50,249.93 L292.00,250.69 L292.50,251.49 L293.00,252.32 L293.50,253.19 L294.00,254.08 L294.50,255.00 L295.00,255.94 L295.50,256.89 L296.00,257.85 L296.50,258.82 L297.00,259.80 L297.50,260.77 L298.00,261.74 L298.50,262.70 L299.00,263.64 L299.50,264.57 L300.00,265.48 L300.50,266.36 L301.00,267.21 L301.50,268.02 L302.00,268.80 L302.50,269.54 L303.00,270.23 L303.50,270.87 L304.00,271.46 L304.50,271.99 L305.00,272.45 L305.50,272.85 L306.00,273.18 L306.50,273.44 L307.00,273.61 L307.50,273.70 L308.00,273.71 L308.50,273.62 L309.00,273.45 L309.50,273.19 L310.00,272.85 L310.50,272.44 L311.00,271.96 L311.50,271.42 L312.00,270.81 L312.50,270.15 L313.00,269.44 L313.50,268.68 L314.00,267.88 L314.50,267.05 L315.00,266.18 L315.50,265.28 L316.00,264.36 L316.50,263.43 L317.00,262.48 L317.50,261.52 L318.00,260.56 L318.50,259.60 L319.00,258.64 L319.50,257.70 L320.00,256.76 L320.50,255.85 L321.00,254.97 L321.50,254.11 L322.00,253.28 L322.50,252.49 L323.00,251.75 L323.50,251.05 L324.00,250.41 L324.50,249.82 L325.00,249.30 L325.50,248.84 L326.00,248.45 L326.50,248.14 L327.00,247.91 L327.50,247.76 L328.00,247.70 L328.50,247.74 L329.00,247.87 L329.50,248.09 L330.00,248.39 L330.50,248.77 L331.00,249.23 L331.50,249.75 L332.00,250.34 L332.50,250.99 L333.00,251.70 L333.50,252.46 L334.00,253.26 L334.50,254.10 L335.00,254.98 L335.50,255.89 L336.00,256.83 L336.50,257.79 L337.00,258.77 L337.50,259.76 L338.00,260.75 L338.50,261.75 L339.00,262.75 L339.50,263.74 L340.00,264.73 L340.50,265.69 L341.00,266.64 L341.50,267.59 L342.00,268.55 L342.50,269.57 L343.00,270.64 L343.50,271.80 L344.00,273.06 L344.50,274.44 L345.00,275.92 L345.50,277.46 L346.00,279.03 L346.50,280.58 L347.00,282.07 L347.50,283.50 L348.00,284.85 L348.50,286.13 L349.00,287.35 L349.50,288.50 L350.00,289.59 L350.50,290.62 L351.00,291.59 L351.50,292.51 L352.00,293.36 L352.50,294.16 L353.00,294.89 L353.50,295.57 L354.00,296.19 L354.50,296.74 L355.00,297.24 L355.50,297.68 L356.00,298.06 L356.50,298.37 L357.00,298.63 L357.50,298.83 L358.00,298.96 L358.50,299.03 L359.00,299.05 L359.50,299.02 L360.00,298.94 L360.50,298.82 L361.00,298.68 L361.50,298.51 L362.00,298.31 L362.50,298.11 L363.00,297.90 L363.50,297.69 L364.00,297.49 L364.50,297.31 L365.00,297.14 L365.50,296.99 L366.00,296.87 L366.50,296.77 L367.00,296.68 L367.50,296.61 L368.00,296.55 L368.50,296.51 L369.00,296.48 L369.50,296.45 L370.00,296.43 L370.50,296.42 L371.00,296.41 L371.50,296.40 L372.00,296.39 L372.50,296.38 L373.00,296.37 L373.50,296.36 L374.00,296.35 L374.50,296.34 L375.00,296.32 L375.50,296.31 L376.00,296.30" fill="none" stroke="#f00" stroke-width="4.6" stroke-linejoin="round"/>
</g>
<line x1="243.2" y1="228" x2="243.2" y2="377.5" stroke="#000" stroke-width="1.3" stroke-dasharray="4.5 4.05"/>
<line x1="114.5" y1="226" x2="114.5" y2="378.1" stroke="#000" stroke-width="1.3" />
<line x1="113.9" y1="377.5" x2="372.3" y2="377.5" stroke="#000" stroke-width="1.3" />
<line x1="111.5" y1="226.0" x2="115" y2="226.0" stroke="#000" stroke-width="1.3" />
<text x="105.4" y="231.5" text-anchor="end" font-size="14.8" >0.06</text>
<line x1="111.5" y1="251.25" x2="115" y2="251.25" stroke="#000" stroke-width="1.3" />
<text x="105.4" y="256.75" text-anchor="end" font-size="14.8" >0.05</text>
<line x1="111.5" y1="276.5" x2="115" y2="276.5" stroke="#000" stroke-width="1.3" />
<text x="105.4" y="282.0" text-anchor="end" font-size="14.8" >0.04</text>
<line x1="111.5" y1="301.75" x2="115" y2="301.75" stroke="#000" stroke-width="1.3" />
<text x="105.4" y="307.25" text-anchor="end" font-size="14.8" >0.03</text>
<line x1="111.5" y1="327.0" x2="115" y2="327.0" stroke="#000" stroke-width="1.3" />
<text x="105.4" y="332.5" text-anchor="end" font-size="14.8" >0.02</text>
<line x1="111.5" y1="352.25" x2="115" y2="352.25" stroke="#000" stroke-width="1.3" />
<text x="105.4" y="357.75" text-anchor="end" font-size="14.8" >0.01</text>
<line x1="111.5" y1="377.5" x2="115" y2="377.5" stroke="#000" stroke-width="1.3" />
<text x="105.4" y="383.0" text-anchor="end" font-size="14.8" >0.00</text>
<line x1="114.55999999999997" y1="377.5" x2="114.55999999999997" y2="380.4" stroke="#000" stroke-width="1.3" />
<text x="119.05999999999997" y="397.0" text-anchor="middle" font-size="14.8" >−12</text>
<line x1="157.44" y1="377.5" x2="157.44" y2="380.4" stroke="#000" stroke-width="1.3" />
<text x="157.44" y="397.0" text-anchor="middle" font-size="14.8" >−8</text>
<line x1="200.32" y1="377.5" x2="200.32" y2="380.4" stroke="#000" stroke-width="1.3" />
<text x="200.32" y="397.0" text-anchor="middle" font-size="14.8" >−4</text>
<line x1="243.2" y1="377.5" x2="243.2" y2="380.4" stroke="#000" stroke-width="1.3" />
<text x="243.2" y="397.0" text-anchor="middle" font-size="14.8" >0</text>
<line x1="286.08" y1="377.5" x2="286.08" y2="380.4" stroke="#000" stroke-width="1.3" />
<text x="286.08" y="397.0" text-anchor="middle" font-size="14.8" >4</text>
<line x1="328.96" y1="377.5" x2="328.96" y2="380.4" stroke="#000" stroke-width="1.3" />
<text x="328.96" y="397.0" text-anchor="middle" font-size="14.8" >8</text>
<line x1="371.84000000000003" y1="377.5" x2="371.84000000000003" y2="380.4" stroke="#000" stroke-width="1.3" />
<text x="371.84000000000003" y="397.0" text-anchor="middle" font-size="14.8" >12</text>
<path d="M287.60,234.60 L287.60,230.30 M287.60,234.60 L291.69,233.27 M287.60,234.60 L290.13,238.08 M287.60,234.60 L285.07,238.08 M287.60,234.60 L283.51,233.27 " stroke="#000" stroke-width="1.85" stroke-linecap="butt" fill="none"/>
<text transform="translate(61.3,98) rotate(-90)" text-anchor="middle" font-size="14.85">Density (all participants)</text>
<text transform="translate(61.3,302.2) rotate(-90)" text-anchor="middle" font-size="14.85">Density (all participants)</text>
<text transform="translate(12.4,97) rotate(-90)" text-anchor="middle" font-size="15">Skeletal muscle</text>
<text transform="translate(29.8,98) rotate(-90)" text-anchor="middle" font-size="14.8">metabolites</text>
<text transform="translate(29.8,302) rotate(-90)" text-anchor="middle" font-size="15">Serum metabolites</text>
<text x="243.4" y="420.6" text-anchor="middle" font-size="14.7" >Relative phase shift</text>
<text x="243.4" y="437.7" text-anchor="middle" font-size="14.7" >(h compared cortisol peak)</text>
<rect x="497.0" y="154.267" width="25.6" height="1.233" fill="#666666"/>
<rect x="531.6" y="132.073" width="25.6" height="23.427" fill="#666666"/>
<rect x="566.1" y="45.516400000000004" width="25.6" height="109.9836" fill="#bdbdbd"/>
<rect x="600.7" y="146.9923" width="25.6" height="8.507699999999998" fill="#666666"/>
<line x1="484" y1="31.200000000000003" x2="484" y2="156.3" stroke="#000" stroke-width="1.6" />
<line x1="483.5" y1="155.5" x2="674.5" y2="155.5" stroke="#000" stroke-width="1.6" />
<line x1="480" y1="155.5" x2="484.5" y2="155.5" stroke="#000" stroke-width="2.2" />
<text x="474.5" y="160.7" text-anchor="end" font-size="14.5" >0</text>
<line x1="480" y1="130.84" x2="484.5" y2="130.84" stroke="#000" stroke-width="2.2" />
<text x="474.5" y="136.04" text-anchor="end" font-size="14.5" >100</text>
<line x1="480" y1="106.18" x2="484.5" y2="106.18" stroke="#000" stroke-width="2.2" />
<text x="474.5" y="111.38000000000001" text-anchor="end" font-size="14.5" >200</text>
<line x1="480" y1="81.52000000000001" x2="484.5" y2="81.52000000000001" stroke="#000" stroke-width="2.2" />
<text x="474.5" y="86.72000000000001" text-anchor="end" font-size="14.5" >300</text>
<line x1="480" y1="56.86" x2="484.5" y2="56.86" stroke="#000" stroke-width="2.2" />
<text x="474.5" y="62.06" text-anchor="end" font-size="14.5" >400</text>
<line x1="480" y1="32.2" x2="484.5" y2="32.2" stroke="#000" stroke-width="2.2" />
<text x="474.5" y="37.400000000000006" text-anchor="end" font-size="14.5" >500</text>
<line x1="509.8" y1="155.5" x2="509.8" y2="159.3" stroke="#000" stroke-width="2.6" />
<line x1="544.4" y1="155.5" x2="544.4" y2="159.3" stroke="#000" stroke-width="2.6" />
<line x1="578.9" y1="155.5" x2="578.9" y2="159.3" stroke="#000" stroke-width="2.6" />
<line x1="613.5" y1="155.5" x2="613.5" y2="159.3" stroke="#000" stroke-width="2.6" />
<line x1="648.1" y1="155.5" x2="648.1" y2="159.3" stroke="#000" stroke-width="2.6" />
<rect x="531.6" y="280.8875" width="25.6" height="15.412500000000001" fill="#666666"/>
<rect x="566.1" y="188.4125" width="25.6" height="107.88750000000002" fill="#bdbdbd"/>
<line x1="484" y1="172" x2="484" y2="297.1" stroke="#000" stroke-width="1.6" />
<line x1="483.5" y1="296.3" x2="674.5" y2="296.3" stroke="#000" stroke-width="1.6" />
<line x1="480" y1="296.3" x2="484.5" y2="296.3" stroke="#000" stroke-width="2.2" />
<text x="474.5" y="301.5" text-anchor="end" font-size="14.5" >0</text>
<line x1="480" y1="265.475" x2="484.5" y2="265.475" stroke="#000" stroke-width="2.2" />
<text x="474.5" y="270.675" text-anchor="end" font-size="14.5" >2</text>
<line x1="480" y1="234.65" x2="484.5" y2="234.65" stroke="#000" stroke-width="2.2" />
<text x="474.5" y="239.85" text-anchor="end" font-size="14.5" >4</text>
<line x1="480" y1="203.825" x2="484.5" y2="203.825" stroke="#000" stroke-width="2.2" />
<text x="474.5" y="209.02499999999998" text-anchor="end" font-size="14.5" >6</text>
<line x1="480" y1="173.0" x2="484.5" y2="173.0" stroke="#000" stroke-width="2.2" />
<text x="474.5" y="178.2" text-anchor="end" font-size="14.5" >8</text>
<line x1="509.8" y1="296.3" x2="509.8" y2="300.1" stroke="#000" stroke-width="2.6" />
<line x1="544.4" y1="296.3" x2="544.4" y2="300.1" stroke="#000" stroke-width="2.6" />
<line x1="578.9" y1="296.3" x2="578.9" y2="300.1" stroke="#000" stroke-width="2.6" />
<line x1="613.5" y1="296.3" x2="613.5" y2="300.1" stroke="#000" stroke-width="2.6" />
<line x1="648.1" y1="296.3" x2="648.1" y2="300.1" stroke="#000" stroke-width="2.6" />
<rect x="497.0" y="435.155" width="25.6" height="2.045" fill="#666666"/>
<rect x="531.6" y="361.63725" width="25.6" height="75.56275000000001" fill="#666666"/>
<rect x="566.1" y="356.11575" width="25.6" height="81.08424999999998" fill="#bdbdbd"/>
<rect x="600.7" y="435.155" width="25.6" height="2.045" fill="#666666"/>
<line x1="484" y1="313.5" x2="484" y2="438.0" stroke="#000" stroke-width="1.6" />
<line x1="483.5" y1="437.2" x2="674.5" y2="437.2" stroke="#000" stroke-width="1.6" />
<line x1="480" y1="437.2" x2="484.5" y2="437.2" stroke="#000" stroke-width="2.2" />
<text x="474.5" y="442.4" text-anchor="end" font-size="14.5" >0</text>
<line x1="480" y1="406.525" x2="484.5" y2="406.525" stroke="#000" stroke-width="2.2" />
<text x="474.5" y="411.72499999999997" text-anchor="end" font-size="14.5" >30</text>
<line x1="480" y1="375.85" x2="484.5" y2="375.85" stroke="#000" stroke-width="2.2" />
<text x="474.5" y="381.05" text-anchor="end" font-size="14.5" >60</text>
<line x1="480" y1="345.175" x2="484.5" y2="345.175" stroke="#000" stroke-width="2.2" />
<text x="474.5" y="350.375" text-anchor="end" font-size="14.5" >90</text>
<line x1="480" y1="314.5" x2="484.5" y2="314.5" stroke="#000" stroke-width="2.2" />
<text x="474.5" y="319.7" text-anchor="end" font-size="14.5" >120</text>
<line x1="509.8" y1="437.2" x2="509.8" y2="441.0" stroke="#000" stroke-width="2.6" />
<line x1="544.4" y1="437.2" x2="544.4" y2="441.0" stroke="#000" stroke-width="2.6" />
<line x1="578.9" y1="437.2" x2="578.9" y2="441.0" stroke="#000" stroke-width="2.6" />
<line x1="613.5" y1="437.2" x2="613.5" y2="441.0" stroke="#000" stroke-width="2.6" />
<line x1="648.1" y1="437.2" x2="648.1" y2="441.0" stroke="#000" stroke-width="2.6" />
<text x="509.8" y="457.5" text-anchor="middle" font-size="14.5" >−8</text>
<text x="544.4" y="457.5" text-anchor="middle" font-size="14.5" >−4</text>
<text x="578.9" y="457.5" text-anchor="middle" font-size="14.5" >0</text>
<text x="613.5" y="457.5" text-anchor="middle" font-size="14.5" >4</text>
<text x="648.1" y="457.5" text-anchor="middle" font-size="14.5" >8</text>
<text transform="translate(419.5,92.5) rotate(-90)" text-anchor="middle" font-size="15">Skeletal Muscle</text>
<text transform="translate(434.5,94.4) rotate(-90)" text-anchor="middle" font-size="14.6">Transcripts (counts)</text>
<text transform="translate(419.5,234) rotate(-90)" text-anchor="middle" font-size="15">Skeletal Muscle</text>
<text transform="translate(434.5,235.3) rotate(-90)" text-anchor="middle" font-size="14.6">Metabolite (counts)</text>
<text transform="translate(419.5,376) rotate(-90)" text-anchor="middle" font-size="15">Serum</text>
<text transform="translate(434.5,377.3) rotate(-90)" text-anchor="middle" font-size="14.6">Metabolite (counts)</text>
<text x="579.2" y="480.5" text-anchor="middle" font-size="14.7" >Phase shift (h compared to EXF)</text>
</svg>
</body></html>
